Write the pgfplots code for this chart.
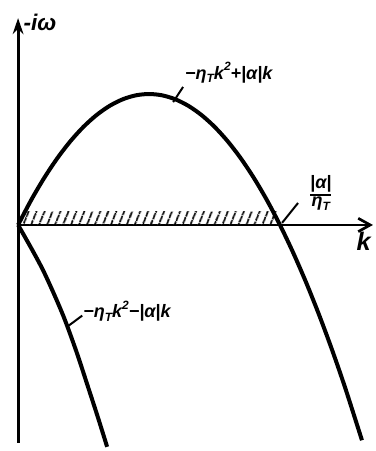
\documentclass[border=0pt]{standalone}
\usepackage{amsmath}
\usepackage{fontspec}
\usepackage{pgfplots}
\pgfplotsset{compat=1.18}
\usetikzlibrary{arrows.meta,patterns.meta}
\setmainfont{Liberation Sans}

% growth-rate branches: upper -eta k^2 + |alpha| k, lower -eta k^2 - |alpha| k
\pgfplotstableread{
k      w
0.000  0.000
0.050  0.095
0.100  0.180
0.150  0.255
0.200  0.320
0.250  0.375
0.300  0.420
0.350  0.455
0.400  0.480
0.450  0.495
0.500  0.500
0.550  0.495
0.600  0.480
0.650  0.455
0.700  0.420
0.750  0.375
0.800  0.320
0.850  0.255
0.900  0.180
0.950  0.095
1.000  0.000
1.050 -0.105
1.100 -0.220
1.150 -0.345
1.200 -0.480
1.250 -0.625
1.313 -0.822
}\upperbranch
\pgfplotstableread{
k      w
0.000  0.000
0.050 -0.088
0.095 -0.172
0.140 -0.270
0.179 -0.363
0.225 -0.490
0.267 -0.618
0.305 -0.735
0.340 -0.847
}\lowerbranch

\tikzset{lab/.style={font=\fontsize{13.5}{15}\selectfont\bfseries\itshape, inner sep=0pt}}
\newcommand{\subT}{\raisebox{-0.35ex}{\fontsize{9}{10}\selectfont T}}
\newcommand{\supTwo}{\raisebox{0.9ex}{\fontsize{9}{10}\selectfont 2}}

\begin{document}
\begin{tikzpicture}
\begin{axis}[
  x=196.5pt, y=196.5pt,
  axis lines=middle,
  xmin=0, xmax=1.355,
  ymin=-0.832, ymax=0.79,
  ticks=none,
  clip=false,
  axis line style={line width=2.2pt},
  x axis line style={-{Straight Barb[length=9pt,width=10pt,line width=2pt]}},
  y axis line style={-{Stealth[length=12pt,width=8pt]}},
]
  % frame of the drawing
  \path (axis cs:-0.069,-0.863) rectangle (axis cs:1.363,0.859);

  % hatched band of unstable wavenumbers
  \addplot[draw=none, pattern={Lines[angle=68,distance=5.4pt,line width=1.5pt]}]
    coordinates {(0.015,0) (0.99,0) (0.99,0.05) (0.015,0.05)} -- cycle;

  \addplot[line width=3pt, smooth, no marks] table[x=k,y=w] {\upperbranch};
  \addplot[line width=3pt, smooth, no marks] table[x=k,y=w] {\lowerbranch};

  % leaders
  \addplot[line width=1.5pt, no marks] coordinates {(0.592,0.469) (0.630,0.527)};
  \addplot[line width=1.5pt, no marks] coordinates {(0.187,-0.389) (0.245,-0.346)};
  \addplot[line width=1.5pt, no marks] coordinates {(1.008,0.008) (1.069,0.084)};

  \node[lab, anchor=base west] at (axis cs:0.637,0.557) {−η\subT k\supTwo+|α|k};
  \node[lab, anchor=base west] at (axis cs:0.248,-0.355) {−η\subT k\supTwo−|α|k};
  \node[lab, anchor=center] at (axis cs:1.156,0.122)
    {$\genfrac{}{}{1.2pt}{}{\hbox{|α|}}{\hbox{η\subT}}$};
  \node[font=\fontsize{19}{21}\selectfont\bfseries\itshape, anchor=center] at (axis cs:1.32,-0.061) {k};
  \node[font=\fontsize{17}{19}\selectfont\bfseries\itshape, anchor=base west, inner sep=0pt] at (axis cs:0.02,0.744) {-iω};
\end{axis}
\end{tikzpicture}
\end{document}
